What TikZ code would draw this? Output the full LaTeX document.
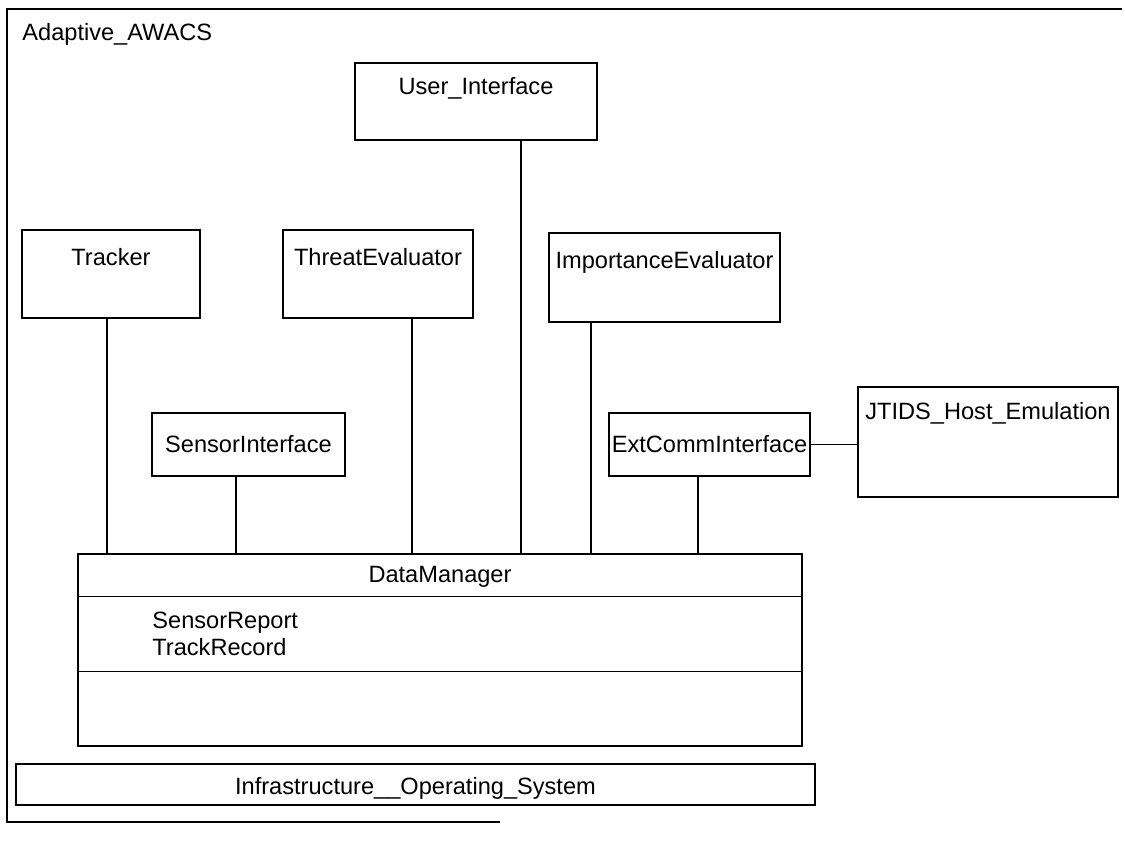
\documentclass[tikz,border=0pt]{standalone}
\usepackage{fontspec}
\setmainfont{Liberation Sans}
\usetikzlibrary{positioning}
\tikzset{comp/.style = {draw, rectangle, inner sep = 0, line width = 0.7pt}}
\tikzset{headed/.style 2 args = {label = {[anchor=base, inner sep=0, yshift=-#1]north:#2}}}
\tikzset{link/.style = {line width = 0.7pt}}

\begin{document}
\begin{tikzpicture}[x=0.5pt, y=-0.5pt, font=\fontsize{11.8}{14}\selectfont]
      \useasboundingbox (0, 0) rectangle (1125, 852);

      % outer package frame
      \draw [line width=0.6pt] (1122, 9) -- (7, 9) -- (7, 822) -- (500, 822);
      \node [anchor=base west, inner sep=0] (pkg) at (22, 40) {Adaptive\_AWACS};

      \node [comp, minimum width=121pt, minimum height=38.5pt, headed={16pt}{User\_Interface}] (user) at (476, 101.5) {};
      \node [comp, minimum width=89pt, minimum height=44pt, headed={18pt}{Tracker}] (tracker) at (111, 274) {};
      \node [comp, minimum width=95pt, minimum height=44pt, headed={18pt}{ThreatEvaluator}] (threat) at (378, 274) {};
      \node [comp, minimum width=115.5pt, minimum height=44.5pt, headed={18pt}{ImportanceEvaluator}] (importance) at (664.5, 277.5) {};
      \node [comp, minimum width=96.5pt, minimum height=31.5pt] (sensor) at (248.5, 444.5) {SensorInterface};
      \node [comp, minimum width=100.5pt, minimum height=31.5pt] (extcomm) at (709.5, 444.5) {ExtCommInterface};
      \node [comp, minimum width=130pt, minimum height=55pt, headed={16.5pt}{JTIDS\_Host\_Emulation}] (jtids) at (988, 442) {};

      % data manager with its compartments
      \node [comp, minimum width=362pt, minimum height=96pt] (dm) at (440, 650) {};
      \draw [link] (dm.north west) ++(0, 43) -- ++(724, 0);
      \draw [link] (dm.north west) ++(0, 118) -- ++(724, 0);
      \node (dmname) at (440, 577) {DataManager};
      \node [anchor=base west, inner sep=0] (sensorrep) at (152, 628) {SensorReport};
      \node [anchor=base west, inner sep=0] (trackrec) at ([yshift=-13.5pt]sensorrep.base west) {TrackRecord};

      \node [comp, minimum width=399.5pt, minimum height=20.5pt, text height=12.6pt] (infra) at (415.5, 784.5) {Infrastructure\_\_Operating\_System};

      % connectors to the data manager
      \draw [link] ([xshift=-2pt]tracker.south) -- ([xshift=-2pt]tracker.south |- dm.north);
      \draw [link] ([xshift=-6.25pt]sensor.south) -- ([xshift=-6.25pt]sensor.south |- dm.north);
      \draw [link] ([xshift=17pt]threat.south) -- ([xshift=17pt]threat.south |- dm.north);
      \draw [link] ([xshift=22.5pt]user.south) -- ([xshift=22.5pt]user.south |- dm.north);
      \draw [link] ([xshift=-36.75pt]importance.south) -- ([xshift=-36.75pt]importance.south |- dm.north);
      \draw [link] ([xshift=-5.75pt]extcomm.south) -- ([xshift=-5.75pt]extcomm.south |- dm.north);
      \draw [link] (extcomm.east) -- (extcomm.east -| jtids.west);
    \end{tikzpicture}
\end{document}
